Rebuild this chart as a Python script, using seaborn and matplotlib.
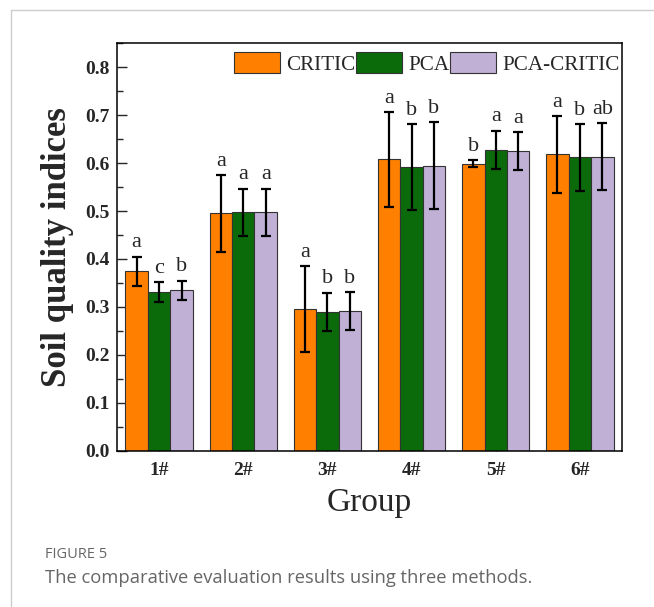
import numpy as np
import pandas as pd
import seaborn as sns
import matplotlib.pyplot as plt
from matplotlib.lines import Line2D
from matplotlib.ticker import MultipleLocator

# values
groups = ['1#', '2#', '3#', '4#', '5#', '6#']
methods = ['CRITIC', 'PCA', 'PCA-CRITIC']
critic = [0.374, 0.495, 0.295, 0.608, 0.599, 0.618]
pca = [0.331, 0.497, 0.290, 0.592, 0.628, 0.612]
pca_critic = [0.335, 0.497, 0.291, 0.595, 0.625, 0.613]
critic_err = [0.031, 0.080, 0.090, 0.099, 0.008, 0.080]
pca_err = [0.021, 0.050, 0.040, 0.090, 0.040, 0.070]
pca_critic_err = [0.020, 0.050, 0.040, 0.090, 0.040, 0.070]
critic_sig = ['a', 'a', 'a', 'a', 'b', 'a']
pca_sig = ['c', 'a', 'b', 'b', 'a', 'b']
pca_critic_sig = ['b', 'a', 'b', 'b', 'a', 'ab']

colors = ['#FF8000', '#0B6B0B', '#C0B0D5']

df = pd.DataFrame({
    'Group': groups * 3,
    'Method': [m for m in methods for _ in groups],
    'Value': critic + pca + pca_critic,
})

sns.set_style('white')
plt.rcParams['font.family'] = ['Liberation Serif', 'DejaVu Serif']

fig = plt.figure(figsize=(6.54, 6.07), dpi=100)
ax = fig.add_axes([0.1789, 0.2575, 0.7722, 0.6712])

sns.barplot(data=df, x='Group', y='Value', hue='Method', palette=colors,
            saturation=1, width=0.8, edgecolor='#333333', linewidth=0.8,
            errorbar=None, ax=ax)

# error bars and significance letters
errs = [critic_err, pca_err, pca_critic_err]
sigs = [critic_sig, pca_sig, pca_critic_sig]
for cont, err, sig in zip(ax.containers, errs, sigs):
    xs = [p.get_x() + p.get_width() / 2 for p in cont.patches]
    hs = [p.get_height() for p in cont.patches]
    ax.errorbar(xs, hs, yerr=err, fmt='none', ecolor='black', elinewidth=1.6,
                capsize=3.8, capthick=1.6, zorder=5)
    for x, h, e, s in zip(xs, hs, err, sig):
        ax.annotate(s, (x, h + e), xytext=(0, 3), textcoords='offset points',
                    ha='center', va='bottom', fontsize=16)

ax.set_xlim(-0.5, 5.5)
ax.set_ylim(0, 0.85)
ax.yaxis.set_major_locator(MultipleLocator(0.1))
ax.yaxis.set_minor_locator(MultipleLocator(0.05))
ax.set_yticks(np.arange(0, 0.81, 0.1))
ax.set_yticklabels([f'{v:.1f}' for v in np.arange(0, 0.81, 0.1)],
                   fontweight='bold', fontsize=14)
ax.set_xticks(range(len(groups)))
ax.set_xticklabels(groups, fontweight='bold', fontsize=14)
ax.tick_params(axis='y', which='major', direction='in', length=7, width=1,
               left=True, right=False, pad=5)
ax.tick_params(axis='y', which='minor', direction='in', length=4, width=1,
               left=True, right=False)
ax.tick_params(axis='x', direction='in', length=6, width=1, bottom=True,
               top=False, pad=8)
for sp in ax.spines.values():
    sp.set_color('black')
    sp.set_linewidth(1.1)

ax.set_ylabel('Soil quality indices', fontsize=25, fontweight='bold', labelpad=8)
ax.set_xlabel('Group', fontsize=24, labelpad=6)

handles, labels = ax.get_legend_handles_labels()
ax.legend(handles, labels, ncol=3, loc='upper right', bbox_to_anchor=(1.003, 0.99),
          frameon=False, fontsize=15.2, handlelength=2.15, handleheight=1.2,
          handletextpad=0.3, columnspacing=0.05, borderaxespad=0.0,
          borderpad=0.2)

# page frame and caption
fig.add_artist(Line2D([11 / 654, 1], [1 - 10 / 607, 1 - 10 / 607],
                      transform=fig.transFigure, color='#cccccc', lw=1))
fig.add_artist(Line2D([11 / 654, 11 / 654], [0, 1 - 10 / 607],
                      transform=fig.transFigure, color='#cccccc', lw=1))
fig.text(45 / 654, 1 - 555 / 607, 'FIGURE 5', fontsize=10.5, color='#666666',
         family=['Open Sans', 'DejaVu Sans'], va='center')
fig.text(45 / 654, 1 - 578 / 607,
         'The comparative evaluation results using three methods.',
         fontsize=13.2, color='#666666', family=['Open Sans', 'DejaVu Sans'],
         va='center')

fig.savefig('out.png', dpi=100)
